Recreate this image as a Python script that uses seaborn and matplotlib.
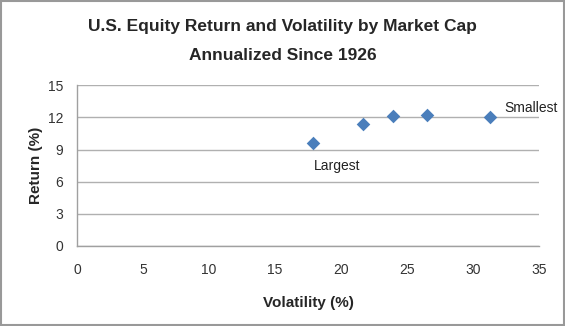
import matplotlib
matplotlib.use("Agg")
import matplotlib.pyplot as plt
import seaborn as sns
import pandas as pd
from matplotlib import font_manager

volatility = [17.9, 21.7, 23.95, 26.55, 31.25]
returns = [9.65, 11.37, 12.15, 12.2, 12.0]
x_ticks = [0, 5, 10, 15, 20, 25, 30, 35]
y_ticks = [0, 3, 6, 9, 12, 15]

sns.set_theme(style="white")
names = {f.name for f in font_manager.fontManager.ttflist}
fam = "Liberation Sans Narrow" if "Liberation Sans Narrow" in names else "Liberation Sans"
plt.rcParams['font.family'] = [fam, 'DejaVu Sans']

df = pd.DataFrame({"Volatility": volatility, "Return": returns})

fig = plt.figure(figsize=(5.65, 3.26), dpi=100)
ax = fig.add_axes([0.1363, 0.2454, 0.8177, 0.4929])
sns.scatterplot(data=df, x="Volatility", y="Return", marker="D", s=48,
                color="#4A7EBB", edgecolor="#4A7EBB", linewidth=0, ax=ax, zorder=3)

ax.set_xlim(0, 35)
ax.set_ylim(0, 15)
ax.set_xticks(x_ticks)
ax.set_yticks(y_ticks)
ax.set_xticklabels([str(v) for v in x_ticks], fontsize=10, color="#333333")
ax.set_yticklabels([str(v) for v in y_ticks], fontsize=10, color="#333333")
ax.tick_params(axis="x", length=0, pad=12)
ax.tick_params(axis="y", length=0, pad=10)
ax.yaxis.grid(True, color="#B0B0B0", linewidth=1)
ax.set_axisbelow(True)
for s in ["top", "right"]:
    ax.spines[s].set_visible(False)
for s in ["left", "bottom"]:
    ax.spines[s].set_color("#A0A0A0")
    ax.spines[s].set_linewidth(1)

ax.set_xlabel("Volatility (%)", fontsize=11, fontweight="bold", labelpad=14)
ax.set_ylabel("Return (%)", fontsize=11, fontweight="bold", labelpad=3)

ax.annotate("Largest", xy=(volatility[0], returns[0]), xytext=(17, -17),
            textcoords="offset points", ha="center", va="center", fontsize=10, color="#222222")
ax.annotate("Smallest", xy=(volatility[-1], returns[-1]), xytext=(30, 7),
            textcoords="offset points", ha="center", va="center", fontsize=10, color="#222222")

fig.text(0.5, 1 - 26 / 326, "U.S. Equity Return and Volatility by Market Cap",
         ha="center", va="center", fontsize=12.5, fontweight="bold")
fig.text(0.5, 1 - 55 / 326, "Annualized Since 1926",
         ha="center", va="center", fontsize=12.5, fontweight="bold")

fig.patches.append(plt.Rectangle((0.001, 0.002), 0.997, 0.996, transform=fig.transFigure,
                                 fill=False, edgecolor="#999999", linewidth=1.5))
fig.savefig("out.png", dpi=100)
